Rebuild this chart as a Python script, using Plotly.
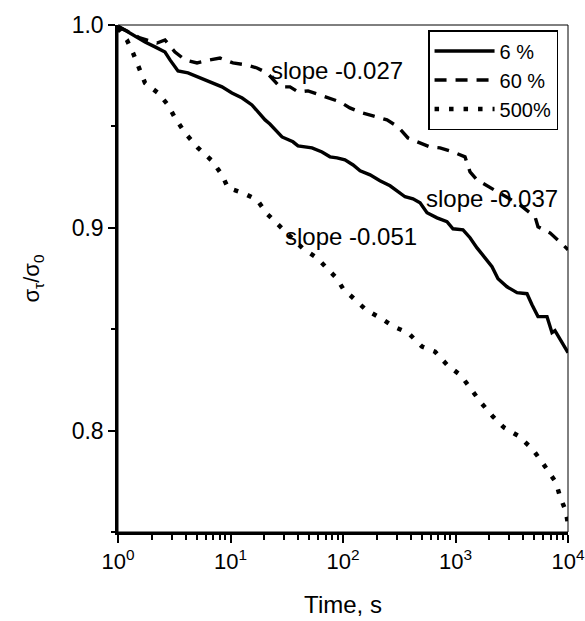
import plotly.graph_objects as go

# ---- data ----
t_6 = [1, 1.227, 1.738, 2.133, 2.617, 2.899, 3.415, 4.19, 5.14, 6.85, 8.40, 10.3, 12.7, 15.5, 17.6,
       20.3, 22.4, 28.7, 35.9, 39.8, 53.0, 65.1, 76.6, 88.5, 104, 123, 142, 174, 213, 262, 356, 419,
       484, 558, 685, 840, 950, 1166, 1346, 1553, 1829, 2111, 2387, 2870, 3523, 4322, 4786, 5412,
       6507, 7207, 7663, 8490, 10000]
s_6 = [0.9995, 0.9966, 0.9916, 0.9892, 0.9867, 0.9828, 0.9773, 0.9764, 0.9744, 0.9719, 0.9695,
       0.9665, 0.9640, 0.9606, 0.9571, 0.9532, 0.9512, 0.9448, 0.9424, 0.9404, 0.9394, 0.9374,
       0.9350, 0.9345, 0.9335, 0.9310, 0.9281, 0.9261, 0.9232, 0.9207, 0.9153, 0.9143, 0.9123,
       0.9074, 0.9049, 0.9030, 0.8995, 0.8990, 0.8951, 0.8901, 0.8852, 0.8808, 0.8749, 0.8709,
       0.8680, 0.8675, 0.8621, 0.8562, 0.8562, 0.8483, 0.8493, 0.8448, 0.8384]

t_60 = [1, 1.154, 1.568, 2.222, 2.617, 3.211, 3.940, 5.04, 6.57, 8.07, 10.5, 14.0, 17.2, 21.1,
        27.5, 33.8, 39.8, 48.9, 62.5, 76.6, 94.0, 115, 147, 185, 246, 308, 378, 455, 593, 728,
        950, 1215, 1346, 1553, 2028, 2489, 3246, 3744, 5096, 5413, 6918, 9030, 10000]
s_60 = [0.9990, 0.9975, 0.9936, 0.9911, 0.9926, 0.9867, 0.9828, 0.9813, 0.9828, 0.9837, 0.9813,
        0.9803, 0.9788, 0.9764, 0.9695, 0.9695, 0.9670, 0.9675, 0.9655, 0.9640, 0.9621, 0.9591,
        0.9567, 0.9552, 0.9532, 0.9498, 0.9443, 0.9424, 0.9399, 0.9394, 0.9374, 0.9350, 0.9276,
        0.9236, 0.9197, 0.9167, 0.9133, 0.9113, 0.9054, 0.9005, 0.8975, 0.8916, 0.8892]

t_500 = [1, 1.20, 1.36, 1.54, 1.74, 2.27, 2.78, 3.21, 3.94, 5.14, 6.85, 8.40, 9.50, 12.9, 17.2,
         21.1, 28.1, 44.1, 58.7, 73.6, 88.5, 100, 133, 160, 213, 284, 378, 504, 658, 840, 1120,
         1346, 1686, 2154, 2699, 3594, 4789, 5754, 6776, 7818, 8490, 9590, 10000]
s_500 = [0.9985, 0.9926, 0.9862, 0.9783, 0.9714, 0.9665, 0.9606, 0.9542, 0.9468, 0.9394, 0.9330,
         0.9261, 0.9197, 0.9172, 0.9138, 0.9069, 0.9000, 0.8897, 0.8852, 0.8798, 0.8749, 0.8700,
         0.8640, 0.8596, 0.8557, 0.8512, 0.8483, 0.8414, 0.8389, 0.8325, 0.8271, 0.8207, 0.8138,
         0.8069, 0.8015, 0.7975, 0.7911, 0.7852, 0.7793, 0.7744, 0.7675, 0.7601, 0.7537]

x_tickvals = [1, 10, 100, 1000, 10000]
x_ticktext = ["10<sup>0</sup>", "10<sup>1</sup>", "10<sup>2</sup>", "10<sup>3</sup>", "10<sup>4</sup>"]
x_minor = [d * 10 ** e for e in range(4) for d in range(2, 10)]
y_tickvals = [0.8, 0.9, 1.0]
y_ticktext = ["0.8", "0.9", "1.0"]
y_minor = [0.75, 0.85, 0.95]

FONT = "Arial, Liberation Sans, sans-serif"

fig = go.Figure()
fig.add_trace(go.Scatter(x=t_6, y=s_6, mode="lines", name="6 %",
                         line=dict(color="black", width=3.4)))
fig.add_trace(go.Scatter(x=t_60, y=s_60, mode="lines", name="60 %",
                         line=dict(color="black", width=3.4, dash="12px,9px")))
fig.add_trace(go.Scatter(x=t_500, y=s_500, mode="lines", name="500%",
                         line=dict(color="black", width=4.5, dash="4.5px,10px")))

fig.update_layout(
    width=585, height=621,
    margin=dict(l=118, r=17, t=25, b=89),
    paper_bgcolor="white", plot_bgcolor="white",
    font=dict(family=FONT, color="black", size=21),
    showlegend=True,
    legend=dict(x=0.689, y=0.99, xanchor="left", yanchor="top",
                bgcolor="white", bordercolor="black", borderwidth=1.5,
                font=dict(size=20), itemwidth=60, tracegroupgap=0),
    xaxis=dict(type="log", range=[0, 4], tickvals=x_tickvals, ticktext=x_ticktext,
               ticks="outside", ticklen=8, tickwidth=2, tickcolor="black",
               showline=True, linecolor="black", linewidth=2.5, mirror=False,
               showgrid=False, zeroline=False, tickfont=dict(size=22), automargin=False,
               minor=dict(tickvals=x_minor, ticks="outside", ticklen=5, tickwidth=1.5,
                          tickcolor="black", showgrid=False),
               title=dict(text="Time, s", font=dict(size=24), standoff=24)),
    yaxis=dict(range=[0.75, 1.0], tickvals=y_tickvals, ticktext=y_ticktext,
               ticks="outside", ticklen=7, tickwidth=2, tickcolor="black",
               showline=True, linecolor="black", linewidth=2.5, mirror=False,
               showgrid=False, zeroline=False, tickfont=dict(size=23), automargin=False,
               minor=dict(tickvals=y_minor, ticks="outside", ticklen=4,
                          tickwidth=1.5, tickcolor="black", showgrid=False),
               title=dict(text="σ<sub>τ</sub>/σ<sub>0</sub>", font=dict(size=22), standoff=26)),
)

# thin frame on top/right
fig.add_shape(type="rect", xref="x domain", yref="y domain", x0=0, x1=1, y0=0, y1=1,
              line=dict(color="black", width=1), layer="above")

for txt, ax, ay in [("slope -0.027", 0.487, 0.911),
                    ("slope -0.037", 0.831, 0.657),
                    ("slope -0.051", 0.518, 0.582)]:
    fig.add_annotation(text=txt, xref="x domain", yref="y domain", x=ax, y=ay,
                       xanchor="center", yanchor="middle",
                       showarrow=False, font=dict(size=24, family=FONT))

fig.write_html("out.html", config={"displayModeBar": False},
               post_script="document.body.style.margin='0';document.body.style.overflow='hidden';")
